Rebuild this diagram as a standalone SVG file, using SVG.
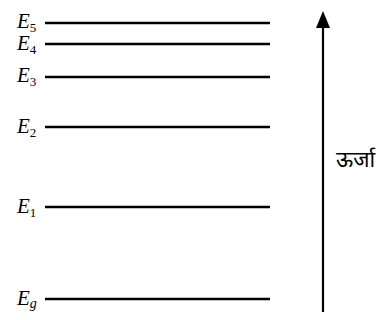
<svg xmlns="http://www.w3.org/2000/svg" width="383" height="320" viewBox="0 0 383 320">
<defs>
<style>
.lvl{stroke:#000;stroke-width:2.3}
.lab{font-family:"Liberation Serif",serif;font-style:italic;font-size:21px;fill:#000}
.sub{font-size:13px;font-style:normal}
.subi{font-size:14px;font-style:italic}
.ax{stroke:#000;stroke-width:2.2;fill:none}
.ur{font-family:"Noto Sans","Noto Sans Devanagari","Lohit Devanagari",sans-serif;font-size:22px;fill:#000}
</style>
</defs>
<g id="E5"><line class="lvl" x1="45" y1="23" x2="270" y2="23"/><text class="lab" x="17" y="28">E<tspan class="sub" dy="4">5</tspan></text></g>
<g id="E4"><line class="lvl" x1="45" y1="44" x2="270" y2="44"/><text class="lab" x="17" y="50">E<tspan class="sub" dy="4">4</tspan></text></g>
<g id="E3"><line class="lvl" x1="45" y1="77" x2="270" y2="77"/><text class="lab" x="17" y="82">E<tspan class="sub" dy="4">3</tspan></text></g>
<g id="E2"><line class="lvl" x1="45" y1="127" x2="270" y2="127"/><text class="lab" x="17" y="133">E<tspan class="sub" dy="4">2</tspan></text></g>
<g id="E1"><line class="lvl" x1="45" y1="207" x2="270" y2="207"/><text class="lab" x="17" y="213">E<tspan class="sub" dy="4">1</tspan></text></g>
<g id="Eg"><line class="lvl" x1="45" y1="299" x2="270" y2="299"/><text class="lab" x="17" y="305">E<tspan class="subi" dy="3">g</tspan></text></g>
<g id="connectors">
<line class="ax" x1="323" y1="312" x2="323" y2="26"/>
<path d="M316,28 L323,11 L330,28 Z" fill="#000"/>
</g>
<g id="energy"><text class="ur" x="336" y="167">ऊर्जा</text></g>
</svg>
